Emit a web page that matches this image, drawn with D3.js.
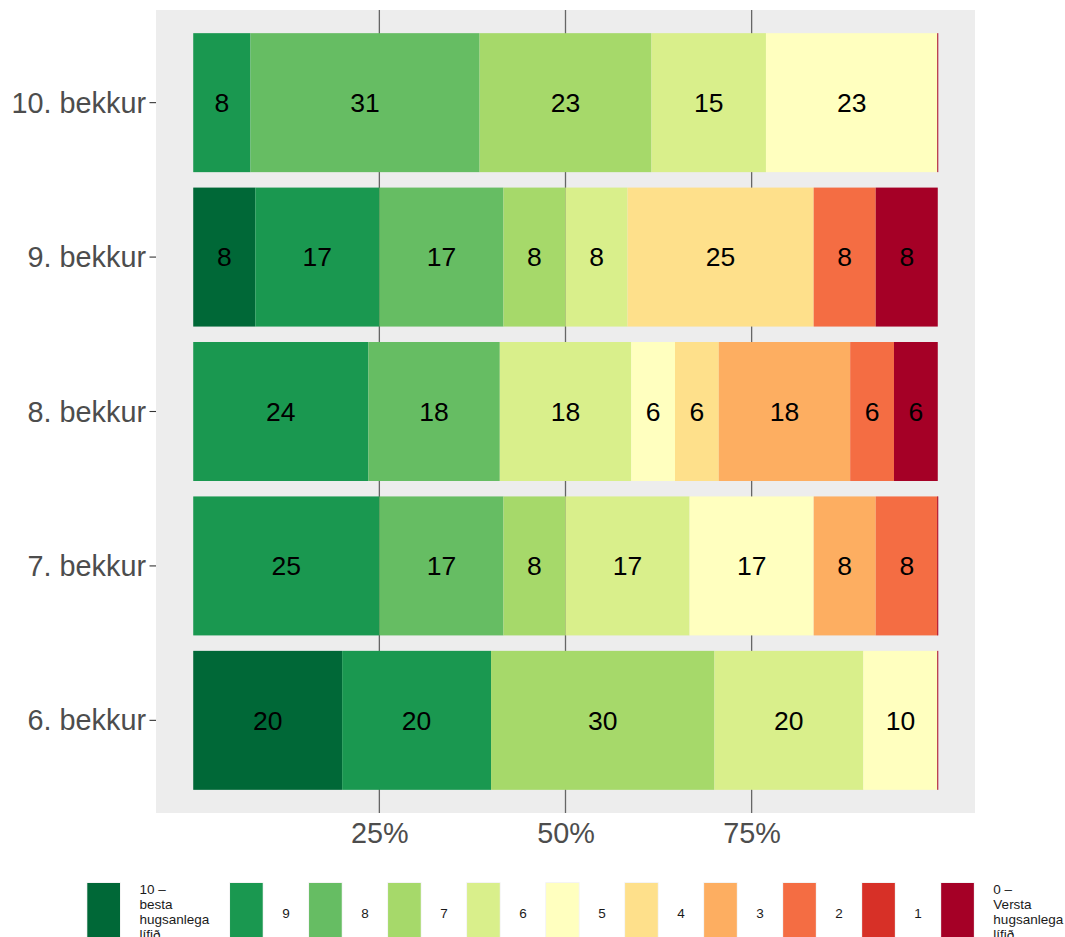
<!DOCTYPE html>
<html><head><meta charset="utf-8">
<script src="https://cdn.jsdelivr.net/npm/d3@7"></script>
<style>body{margin:0;background:#fff}</style>
</head><body><svg id="c" width="1065" height="937"></svg>
<script>
const classes = ["10. bekkur","9. bekkur","8. bekkur","7. bekkur","6. bekkur"];
const grades = ["10","9","8","7","6","5","4","3","2","1","0"];
const gradeLabels = ["10 –\nbesta\nhugsanlega\nlífið","9","8","7","6","5","4","3","2","1","0 –\nVersta\nhugsanlega\nlífið"];
const colors = ["#006837","#1a9850","#66bd63","#a6d96a","#d9ef8b","#ffffbf","#fee08b","#fdae61","#f46d43","#d73027","#a50026"];
// answers per grade (same order as grades); null = no answer in that grade
const counts10 = [null,1,4,3,2,3,null,null,null,null,0];
const counts9  = [1,2,2,1,1,null,3,null,1,null,1];
const counts8  = [null,4,3,null,3,1,1,3,1,null,1];
const counts7  = [null,3,2,1,2,2,null,1,1,null,0];
const counts6  = [2,2,null,3,2,1,null,null,null,null,0];
const xTicks = [0.25,0.5,0.75];

const rowsCounts = [counts10,counts9,counts8,counts7,counts6];
const FONT = "'Liberation Sans', Arial, Helvetica, sans-serif";
const svg = d3.select("#c").style("font-family", FONT);

const panel = {l:156, r:975, t:10, b:813};
const x = d3.scaleLinear().domain([-0.05,1.05]).range([panel.l, panel.r]);
const y = d3.scaleBand().domain(classes).range([panel.t, panel.b]).paddingInner(0.1).paddingOuter(0.15);
const color = d3.scaleOrdinal().domain(grades).range(colors);

// panel background
svg.append("rect").attr("x",panel.l).attr("y",panel.t).attr("width",panel.r-panel.l).attr("height",panel.b-panel.t).attr("fill","#EDEDED");
// grid
svg.append("g").selectAll("line").data(xTicks).join("line")
  .attr("x1",d=>x(d)).attr("x2",d=>x(d)).attr("y1",panel.t).attr("y2",panel.b)
  .attr("stroke","#666666").attr("stroke-width",1.3);

// stacked data
const table = classes.map((c,i)=>{
  const o = {klass:c};
  const tot = d3.sum(rowsCounts[i], v=>v||0);
  grades.forEach((g,j)=>{ o[g] = (rowsCounts[i][j]||0)/tot; o["_n"+g]=rowsCounts[i][j]; });
  return o;
});
const series = d3.stack().keys(grades)(table);

const gBars = svg.append("g");
series.forEach(s=>{
  const g = s.key;
  const pos = s.filter(d=>d.data["_n"+g]>0);
  const zero = s.filter(d=>d.data["_n"+g]===0);
  gBars.selectAll(null).data(pos).join("rect")
    .attr("x",d=>x(d[0])).attr("width",d=>x(d[1])-x(d[0]))
    .attr("y",d=>y(d.data.klass)).attr("height",y.bandwidth())
    .attr("fill",color(g));
  // zero-size segments show as a hairline
  gBars.selectAll(null).data(zero).join("line")
    .attr("x1",d=>x(d[0])).attr("x2",d=>x(d[0]))
    .attr("y1",d=>y(d.data.klass)).attr("y2",d=>y(d.data.klass)+y.bandwidth())
    .attr("stroke",color(g)).attr("stroke-width",1);
  gBars.selectAll(null).data(pos).join("text")
    .attr("x",d=>(x(d[0])+x(d[1]))/2).attr("y",d=>y(d.data.klass)+y.bandwidth()/2)
    .attr("dy","0.35em").attr("text-anchor","middle")
    .attr("font-size","26.5px").attr("fill","#000")
    .text(d=>d3.format(".0f")((d[1]-d[0])*100));
});

// axes
const ax = svg.append("g").attr("transform",`translate(0,${panel.b})`)
  .call(d3.axisBottom(x).tickValues(xTicks).tickFormat(d3.format(".0%")).tickSize(0).tickPadding(10));
ax.select(".domain").remove();
ax.selectAll("text").attr("font-size","28.8px").attr("fill","#4D4D4D").attr("font-family",FONT);

const ay = svg.append("g").attr("transform",`translate(${panel.l},0)`)
  .call(d3.axisLeft(y).tickSize(6.5).tickPadding(3.5));
ay.select(".domain").remove();
ay.selectAll("line").attr("stroke","#333333").attr("stroke-width",1.1);
ay.selectAll("text").attr("font-size","28.8px").attr("fill","#4D4D4D").attr("font-family",FONT).attr("dy","0.35em");

// legend
const lg = svg.append("g");
let lx = 87.3;
const keyW = 32.7, keyTop = 883, keyH = 60, lfs = 13.5, lineH = 15;
grades.forEach((g,i)=>{
  lg.append("rect").attr("x",lx-0.8).attr("y",keyTop-0.8).attr("width",keyW+1.6).attr("height",keyH+1.6).attr("fill","#F2F2F2");
  lg.append("rect").attr("x",lx).attr("y",keyTop).attr("width",keyW).attr("height",keyH).attr("fill",color(g));
  const lines = gradeLabels[i].split("\n");
  const t = lg.append("text").attr("font-size",lfs+"px").attr("fill","#1A1A1A");
  const tx = lx+keyW+19.5;
  if(lines.length===1){
    t.attr("x",tx).attr("y",keyTop+keyH/2).attr("dy","0.35em").text(lines[0]);
  } else {
    lines.forEach((ln,k)=>t.append("tspan").attr("x",tx).attr("y",894+k*lineH).text(ln));
  }
  let w = 0;
  if(lines.length===1){ t.each(function(){ w = this.getComputedTextLength(); }); }
  else { t.selectAll("tspan").each(function(){ w = Math.max(w, this.getComputedTextLength()); }); }
  lx = tx + w + (lines.length===1 ? 19.3 : 20.7);
});
</script></body></html>
